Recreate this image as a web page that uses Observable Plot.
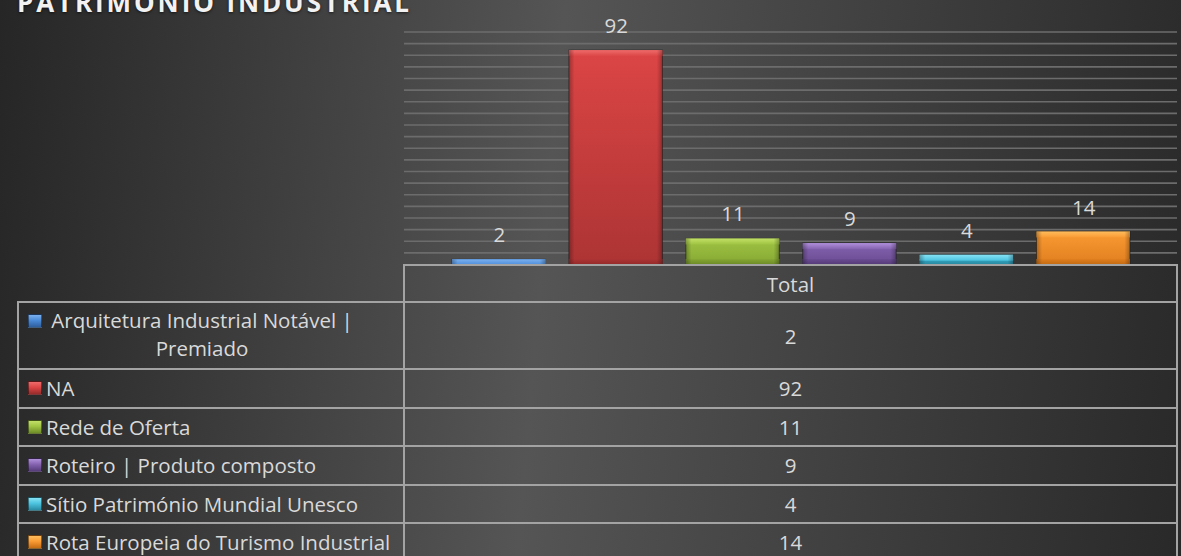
<!DOCTYPE html>
<html>
<head>
<meta charset="utf-8">
<script src="https://cdn.jsdelivr.net/npm/d3@7"></script>
<script src="https://cdn.jsdelivr.net/npm/@observablehq/plot@0.6"></script>
<style>
  html, body { margin: 0; padding: 0; background: #2a2a2a; }
  #chart {
    position: relative; width: 1181px; height: 556px; overflow: hidden;
    background: linear-gradient(95deg, #262626 0%, #555555 46%, #292929 100%);
    font-family: "Open Sans", sans-serif; color: #d9d9d9;
  }
  #title {
    position: absolute; left: 17px; top: -11px; font-size: 26px; line-height: 26px;
    font-weight: 700; letter-spacing: 2.9px; color: #f2f2f2; white-space: nowrap;
    text-shadow: 0 1px 3px rgba(0,0,0,0.6);
  }
  #plot { position: absolute; left: 0; top: 0; }
  #table {
    position: absolute; left: 17px; top: 264px; border-collapse: collapse;
    table-layout: fixed; font-size: 20.5px; color: #d9d9d9;
  }
  #table td { border: 2px solid #a3a3a3; padding: 0; vertical-align: middle; }
  #table td.blank { border: none; }
  #table td.val { text-align: center; }
  #table td.lab { position: relative; }
  .sw {
    position: absolute; left: 9px; width: 12px; height: 12px; border: 1px solid rgba(0,0,0,0.45);
  }
  .txt { position: absolute; left: 27px; white-space: nowrap; line-height: 26px; }
  .txt.wrap { white-space: normal; width: 312px; text-align: center; line-height: 28px; }
</style>
</head>
<body>
<svg width="0" height="0" style="position:absolute"><defs id="defs"></defs></svg>
<div id="chart">
  <div id="plot"></div>
  <div id="title"></div>
  <table id="table"></table>
</div>
<script>
// ---- data ----
const title = "PATRIMÓNIO INDUSTRIAL";
const seriesName = "Total";
const categories = [
  "Arquitetura Industrial Notável | Premiado",
  "NA",
  "Rede de Oferta",
  "Roteiro | Produto composto",
  "Sítio Património Mundial Unesco",
  "Rota Europeia do Turismo Industrial"
];
const values = [2, 92, 11, 9, 4, 14];
const gridValues = [5, 10, 15, 20, 25, 30, 35, 40, 45, 50, 55, 60, 65, 70, 75, 80, 85, 90, 95, 100];

// ---- styles ----
const palette = [
  {top: "#4a8ad8", bottom: "#3a74bf", light: "#7ab0ee", dark: "#2e5f9e"},
  {top: "#dc4545", bottom: "#ad3434", light: "#ee6b6b", dark: "#962b2b"},
  {top: "#a0c443", bottom: "#86a834", light: "#c2e067", dark: "#6e8c28"},
  {top: "#8563b0", bottom: "#6a4c92", light: "#b08fdb", dark: "#563c7a"},
  {top: "#4cc3df", bottom: "#35a7c4", light: "#86e2f5", dark: "#2a8ba4"},
  {top: "#f99b34", bottom: "#e07f1f", light: "#ffbd5c", dark: "#c56c14"}
];

// gradients
const defs = d3.select("#defs");
function vgrad(id, c0, c1) {
  const g = defs.append("linearGradient").attr("id", id).attr("x1", 0).attr("y1", 0).attr("x2", 0).attr("y2", 1);
  g.append("stop").attr("offset", "0%").attr("stop-color", c0);
  g.append("stop").attr("offset", "100%").attr("stop-color", c1);
}
palette.forEach((p, i) => {
  vgrad("main" + i, p.top, p.bottom);
  vgrad("topb" + i, p.light, p.top);
  vgrad("botb" + i, p.bottom, p.dark);
});
{
  const g = defs.append("linearGradient").attr("id", "sides").attr("x1", 0).attr("y1", 0).attr("x2", 1).attr("y2", 0);
  [[0, 0.28], [0.06, 0], [0.94, 0], [1, 0.28]].forEach(([o, a]) =>
    g.append("stop").attr("offset", o).attr("stop-color", "#000").attr("stop-opacity", a));
}

const data = categories.map((c, i) => ({cat: c, value: values[i], i}));

const chart = Plot.plot({
  width: 1181,
  height: 265,
  marginLeft: 404,
  marginRight: 4,
  marginTop: 31.5,
  marginBottom: 1,
  style: "background: transparent; overflow: visible; font-family: 'Open Sans', sans-serif;",
  x: {domain: categories, range: [452, 1130], paddingInner: 0.2, paddingOuter: 0, round: false, axis: null},
  y: {domain: [0, 100], axis: null},
  color: {type: "identity"},
  marks: [
    Plot.ruleY(gridValues, {stroke: "#6c6c6c", strokeWidth: 1.6}),
    Plot.barY(data, {x: "cat", y: "value", fill: d => `url(#main${d.i})`, stroke: "#1a1a1a", strokeOpacity: 0.6, strokeWidth: 1}),
    Plot.barY(data, {x: "cat", y1: 0, y2: 0, insetTop: -5, fill: d => `url(#botb${d.i})`}),
    Plot.barY(data, {x: "cat", y1: "value", y2: "value", insetBottom: -6, fill: d => `url(#topb${d.i})`}),
    Plot.barY(data, {x: "cat", y: "value", fill: "url(#sides)"}),
    Plot.text(data, {x: "cat", y: "value", text: d => String(d.value), dy: -24, fill: "#d9d9d9", fontSize: 20.5, lineAnchor: "middle"})
  ]
});
document.getElementById("plot").appendChild(chart);
document.getElementById("title").textContent = title;

// ---- data table ----
const table = d3.select("#table");
const cg = table.append("colgroup");
cg.append("col").style("width", "386px");
cg.append("col").style("width", "773px");
const hdr = table.append("tr");
hdr.append("td").attr("class", "blank").style("height", "35px");
hdr.append("td").attr("class", "val").style("height", "35px").text(seriesName);
data.forEach((d, i) => {
  const wrap = i === 0;
  const h = wrap ? 65 : 36.5;
  const tr = table.append("tr");
  const lab = tr.append("td").attr("class", "lab").style("height", h + "px");
  const p = palette[d.i];
  lab.append("div").attr("class", "sw")
    .style("top", wrap ? "10.5px" : "11px")
    .style("background", `linear-gradient(180deg, ${p.light} 0%, ${p.top} 45%, ${p.dark} 100%)`);
  lab.append("div").attr("class", "txt" + (wrap ? " wrap" : ""))
    .style("top", wrap ? "3px" : "5px")
    .text(d.cat);
  tr.append("td").attr("class", "val").style("height", h + "px").text(String(d.value));
});
</script>
</body>
</html>
